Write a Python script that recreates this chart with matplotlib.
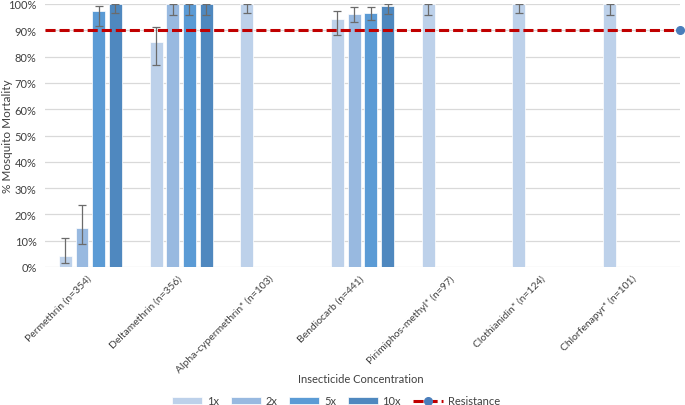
import matplotlib
matplotlib.use("Agg")
import matplotlib.pyplot as plt
import numpy as np

insecticides = ["Permethrin (n=354)", "Deltamethrin (n=356)", "Alpha-cypermethrin* (n=103)",
                "Bendiocarb (n=441)", "Pirimiphos-methyl* (n=97)", "Clothianidin* (n=124)",
                "Chlorfenapyr* (n=101)"]
concentrations = ["1x", "2x", "5x", "10x"]

# mortality (%) per concentration, nan = not tested
mort_1x = [4.0, 85.4, 100, 94.2, 100, 100, 100]
mort_2x = [14.8, 100, np.nan, 96.1, np.nan, np.nan, np.nan]
mort_5x = [97.5, 100, np.nan, 96.5, np.nan, np.nan, np.nan]
mort_10x = [100, 100, np.nan, 99.2, np.nan, np.nan, np.nan]

# 95% CI lower / upper
lo_1x = [1.4, 76.8, 96.5, 88.2, 95.8, 96.6, 96.0]
hi_1x = [11.0, 91.4, 100, 97.4, 100, 100, 100]
lo_2x = [8.9, 95.8, np.nan, 93.2, np.nan, np.nan, np.nan]
hi_2x = [23.7, 100, np.nan, 98.7, np.nan, np.nan, np.nan]
lo_5x = [91.6, 95.8, np.nan, 94.0, np.nan, np.nan, np.nan]
hi_5x = [99.4, 100, np.nan, 98.7, np.nan, np.nan, np.nan]
lo_10x = [96.5, 95.8, np.nan, 96.3, np.nan, np.nan, np.nan]
hi_10x = [100, 100, np.nan, 100, np.nan, np.nan, np.nan]

resistance = 90

colors = ["#bdd1ea", "#98b9e0", "#5b9bd5", "#4f88bf"]
txt = "#404040"

plt.rcParams['font.family'] = ['Lato', 'DejaVu Sans']

fig = plt.figure(figsize=(6.85, 4.06), dpi=100)
ax = fig.add_axes([45 / 685, 1 - 268 / 406, 635 / 685, 263 / 406])

x = np.arange(len(insecticides))
slot = 0.184
width = 0.143
series = [(mort_1x, lo_1x, hi_1x), (mort_2x, lo_2x, hi_2x),
          (mort_5x, lo_5x, hi_5x), (mort_10x, lo_10x, hi_10x)]
handles = []
for i, (vals, lo, hi) in enumerate(series):
    vals = np.array(vals, dtype=float)
    lo = np.array(lo, dtype=float)
    hi = np.array(hi, dtype=float)
    pos = x + (i - 1.5) * slot
    b = ax.bar(pos, vals, width, color=colors[i], label=concentrations[i], zorder=2,
               edgecolor="white", linewidth=0.5)
    handles.append(b)
    ok = ~np.isnan(vals)
    ax.errorbar(pos[ok], vals[ok], yerr=[vals[ok] - lo[ok], hi[ok] - vals[ok]],
                fmt="none", ecolor="#6b6b6b", elinewidth=0.9, capsize=3, capthick=0.9, zorder=3)

line, = ax.plot([x[0] - 0.5, x[-1] + 0.5], [resistance, resistance], color="#c00000",
                linestyle=(0, (3.3, 1.3)), linewidth=2.2, marker="o", markevery=[1],
                markersize=5.5, markerfacecolor="#4a7ebb", markeredgecolor="#4a7ebb",
                label="Resistance", zorder=4, clip_on=False)
handles.append(line)

ax.set_xlim(-0.5, len(insecticides) - 0.5)
ax.set_ylim(0, 100)
ax.set_yticks(np.arange(0, 101, 10))
ax.set_yticklabels([f"{v}%" for v in range(0, 101, 10)], fontsize=8, color=txt)
ax.set_xticks(x)
ax.set_xticklabels(insecticides, rotation=45, ha="right", va="center", rotation_mode="anchor",
                   fontsize=7.5, color=txt)
ax.tick_params(axis="y", length=0, pad=6)
ax.tick_params(axis="x", length=0, pad=7)
ax.grid(axis="y", color="#d9d9d9", linewidth=0.9, zorder=0)
ax.set_axisbelow(True)
for s in ax.spines.values():
    s.set_visible(False)

ax.set_ylabel("% Mosquito Mortality", fontsize=8.5, color=txt)
ax.yaxis.set_label_coords(-32 / 635, 0.5)
fig.text(361 / 685, 1 - 380 / 406, "Insecticide Concentration", fontsize=8, color=txt,
         ha="center", va="center")

fig.legend(handles=handles, loc="center", bbox_to_anchor=(336 / 685, 1 - 402 / 406), ncol=5,
           frameon=False, fontsize=8, handlelength=2.7, handleheight=0.6, columnspacing=1.1,
           handletextpad=0.4, labelcolor=txt)

fig.savefig("out.png", dpi=100)
